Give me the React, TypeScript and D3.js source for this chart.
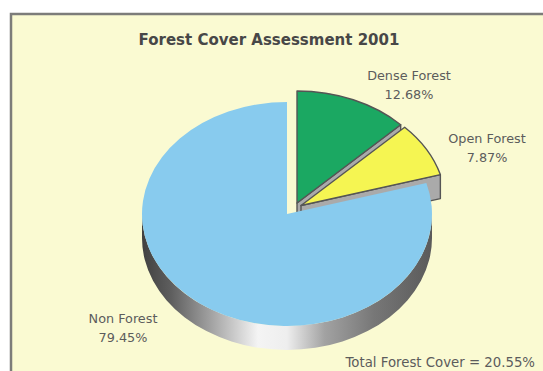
import React from "react";
import * as d3 from "d3";

const categories = ["Dense Forest", "Open Forest", "Non Forest"];
const values = [12.68, 7.87, 79.45];
const valueLabels = ["12.68%", "7.87%", "79.45%"];
const colors = ["#1ba862", "#f5f552", "#88cbee"];
const title = "Forest Cover Assessment 2001";
const footnote = "Total Forest Cover = 20.55%";

const W = 543;
const H = 371;
const cx = 287;
const cy = 214;
const rx = 145;
const ry = 112;
const depth = 24;
// explode offsets (layout)
const explodeOffsets: [number, number][] = [
  [10, -11],
  [14, -8.5],
  [0, 0],
];
// label anchor positions (layout)
const labelPos: [number, number][] = [
  [409, 80],
  [487, 143],
  [123, 323],
];

export default function App() {
  const pie = d3
    .pie<number>()
    .sort(null)
    .value((d) => d)(values);

  const isExploded = (i: number) =>
    explodeOffsets[i][0] !== 0 || explodeOffsets[i][1] !== 0;

  const pt = (a: number, o: number[], down = 0): [number, number] => [
    cx + o[0] + rx * Math.sin(a),
    cy + o[1] - ry * Math.cos(a) + down,
  ];
  const f = (p: [number, number]) => `${p[0].toFixed(2)},${p[1].toFixed(2)}`;

  const topPath = (a0: number, a1: number, o: number[]) => {
    const c: [number, number] = [cx + o[0], cy + o[1]];
    const large = a1 - a0 > Math.PI ? 1 : 0;
    return `M${f(c)}L${f(pt(a0, o))}A${rx},${ry} 0 ${large} 1 ${f(
      pt(a1, o)
    )}Z`;
  };
  const outerWall = (a0: number, a1: number, o: number[]) => {
    const s = Math.max(a0, Math.PI / 2);
    const e = Math.min(a1, (3 * Math.PI) / 2);
    if (e <= s) return null;
    return `M${f(pt(s, o))}A${rx},${ry} 0 0 1 ${f(pt(e, o))}L${f(
      pt(e, o, depth)
    )}A${rx},${ry} 0 0 0 ${f(pt(s, o, depth))}Z`;
  };
  const radialWall = (a: number, o: number[]) => {
    const c: [number, number] = [cx + o[0], cy + o[1]];
    const c2: [number, number] = [c[0], c[1] + depth];
    return `M${f(c)}L${f(pt(a, o))}L${f(pt(a, o, depth))}L${f(c2)}Z`;
  };

  // draw exploded (back) slices first, then the front slice
  const order = pie
    .map((p, i) => i)
    .sort((a, b) => (isExploded(b) ? 1 : 0) - (isExploded(a) ? 1 : 0));

  return (
    <svg
      width={W}
      height={H}
      style={{ position: "absolute", left: 0, top: 0, background: "#ffffff" }}
      fontFamily="DejaVu Sans, Verdana, sans-serif"
    >
      <defs>
        <linearGradient
          id="sideGrad"
          gradientUnits="userSpaceOnUse"
          x1={cx - rx}
          x2={cx + rx}
          y1={0}
          y2={0}
        >
          <stop offset="0" stopColor="#404040" />
          <stop offset="0.1" stopColor="#5e5e5e" />
          <stop offset="0.25" stopColor="#a8a8a8" />
          <stop offset="0.4" stopColor="#f4f4f4" />
          <stop offset="0.5" stopColor="#eeeeee" />
          <stop offset="0.63" stopColor="#a2a2a2" />
          <stop offset="0.8" stopColor="#777777" />
          <stop offset="1" stopColor="#5a5a5a" />
        </linearGradient>
      </defs>
      <rect
        x={11}
        y={14}
        width={W + 20}
        height={H + 20}
        fill="#fafad2"
        stroke="#7c7c7a"
        strokeWidth={2.5}
      />
      <text
        x={269}
        y={45}
        textAnchor="middle"
        fontSize={15}
        fontWeight="bold"
        fill="#474747"
      >
        {title}
      </text>

      {order.map((i) => {
        const p = pie[i];
        const o = explodeOffsets[i];
        const ex = isExploded(i);
        const ow = outerWall(p.startAngle, p.endAngle, o);
        const stroke = ex ? "#555555" : "none";
        const sw = ex ? 1.4 : 0;
        const endNormal = p.endAngle + Math.PI / 2;
        const startNormal = p.startAngle - Math.PI / 2;
        const showEnd = -Math.cos(endNormal) > 0.05;
        const showStart = -Math.cos(startNormal) > 0.05;
        return (
          <g key={categories[i]}>
            {ow && (
              <path d={ow} fill="url(#sideGrad)" stroke={stroke} strokeWidth={sw} />
            )}
            {showStart && (
              <path
                d={radialWall(p.startAngle, o)}
                fill="#a9a9a9"
                stroke={stroke}
                strokeWidth={sw}
              />
            )}
            {showEnd && (
              <path
                d={radialWall(p.endAngle, o)}
                fill="#aaaaaa"
                stroke={stroke}
                strokeWidth={sw}
                strokeLinejoin="round"
              />
            )}
            <path
              d={topPath(p.startAngle, p.endAngle, o)}
              fill={colors[i]}
              stroke={stroke}
              strokeWidth={sw}
              strokeLinejoin="round"
            />
          </g>
        );
      })}

      {categories.map((c, i) => (
        <text
          key={c}
          x={labelPos[i][0]}
          y={labelPos[i][1]}
          textAnchor="middle"
          fontSize={12.8}
          fill="#5c5c5c"
        >
          <tspan x={labelPos[i][0]}>{c}</tspan>
          <tspan x={labelPos[i][0]} dy={19}>
            {valueLabels[i]}
          </tspan>
        </text>
      ))}
      <text x={535} y={367} textAnchor="end" fontSize={13.3} fill="#5c5c5c">
        {footnote}
      </text>
    </svg>
  );
}
